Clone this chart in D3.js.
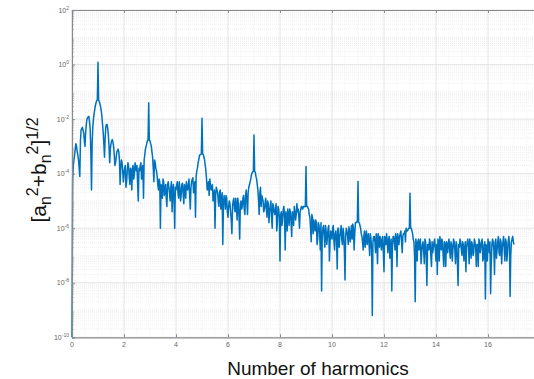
<!DOCTYPE html>
<html>
<head>
<meta charset="utf-8">
<script src="https://cdn.jsdelivr.net/npm/d3@7"></script>
<style>
  body { margin: 0; background: #fff; }
  svg { display: block; font-family: "Liberation Sans", Arial, sans-serif; }
</style>
</head>
<body>
<div id="chart"></div>
<script>
// harmonic axis: samples every 0.05 from 0 to 17, plus in-between samples at +0.025
const harmonicStep = 0.05;
// log10 of [an^2+bn^2]^(1/2) at x = i*0.05, one row per unit of harmonic
const logAmplitude = [
  -10, -3.7, -3.3, -2.9, -3.2, -3.5, -4.1, -2.4, -2.3, -2.5, -3.0, -2.2, -1.95, -1.9, -2.4, -4.6, -2.3, -1.8, -1.5, -1.32,
  0.08, -1.35, -1.55, -1.9, -2.5, -3.4, -2.3, -2.2, -2.6, -3.6, -2.9, -2.75, -3.0, -3.7, -3.4, -3.15, -3.2, -4.4, -3.5, -3.9,
  -4.0, -3.7, -4.3, -3.6, -4.1, -3.8, -4.6, -3.7, -4.0, -3.75, -3.7, -5.0, -3.9, -3.6, -3.8, -4.9, -3.3, -3.0, -2.8, -1.40,
  -2.8, -3.0, -3.4, -4.3, -3.6, -3.9, -4.4, -4.2, -6.0, -4.5, -4.2, -4.8, -4.4, -5.2, -4.3, -4.7, -4.5, -5.4, -4.4, -6.0,
  -4.6, -4.3, -4.9, -4.5, -4.8, -4.35, -5.1, -4.5, -4.3, -4.6, -4.2, -5.3, -4.3, -4.15, -4.4, -5.6, -3.9, -3.6, -3.35, -3.3,
  -1.97, -3.3, -3.5, -3.9, -4.6, -4.3, -4.2, -4.6, -4.4, -4.9, -6.0, -4.5, -4.7, -5.2, -4.6, -5.0, -6.6, -4.8, -5.3, -4.9,
  -5.6, -5.0, -5.4, -6.2, -5.0, -5.3, -4.9, -5.7, -5.1, -6.4, -5.0, -5.2, -4.8, -5.5, -4.6, -5.5, -4.5, -4.3, -4.05, -3.93,
  -2.58, -3.95, -4.2, -4.6, -5.5, -4.5, -4.8, -5.0, -5.3, -4.9, -5.6, -5.1, -5.4, -5.0, -6.0, -5.2, -5.5, -5.1, -5.8, -5.3,
  -7.2, -5.4, -5.7, -5.2, -6.8, -5.5, -5.3, -5.9, -5.4, -6.3, -5.5, -5.2, -5.7, -5.1, -5.3, -6.0, -5.3, -5.25, -5.2, -5.2,
  -3.74, -5.2, -5.3, -5.6, -6.5, -5.6, -5.7, -6.1, -5.8, -6.4, -5.9, -6.8, -8.3, -6.0, -6.3, -5.9, -6.6, -6.0, -7.2, -6.1,
  -6.4, -5.9, -6.8, -6.1, -7.5, -6.0, -6.3, -5.9, -6.6, -6.2, -7.9, -6.0, -6.3, -5.95, -6.5, -5.9, -5.85, -6.8, -5.8, -5.76,
  -4.29, -5.8, -6.0, -6.3, -6.8, -6.1, -6.3, -6.6, -6.2, -7.0, -6.4, -9.2, -6.3, -6.5, -6.2, -7.3, -6.4, -6.3, -6.8, -6.3,
  -7.6, -6.4, -6.2, -6.9, -6.3, -6.6, -8.3, -6.3, -6.5, -6.2, -7.4, -6.4, -6.3, -6.1, -6.9, -6.2, -6.1, -6.0, -6.1, -6.0,
  -4.72, -6.0, -6.2, -6.5, -8.7, -6.6, -6.5, -6.8, -6.4, -6.9, -6.5, -7.3, -6.5, -8.1, -6.6, -6.4, -7.0, -6.5, -6.7, -6.4,
  -7.2, -7.7, -6.5, -6.3, -6.8, -6.5, -7.4, -6.6, -6.5, -6.9, -6.4, -7.1, -6.6, -6.8, -6.5, -7.3, -6.6, -8.1, -6.7, -6.5,
  -7.0, -6.6, -6.8, -7.6, -6.5, -6.7, -6.4, -7.1, -6.6, -6.9, -6.5, -7.4, -6.6, -6.4, -6.9, -6.5, -7.2, -6.6, -8.6, -6.7,
  -6.4, -6.9, -8.4, -6.6, -6.5, -7.7, -6.4, -6.8, -6.3, -7.0, -6.5, -6.7, -6.3, -7.2, -6.5, -6.9, -6.3, -8.5, -6.5, -6.3,
  -6.6
];
// log10 amplitude at x = i*0.05 + 0.025
const logAmplitudeMid = [
  -4.2, -3.5, -3.1, -3.0, -3.3, -3.8, -2.8, -2.35, -2.4, -2.8, -2.5, -2.0, -1.92, -2.1, -3.2, -2.9, -2.0, -1.65, -1.4, -1.3,
  -1.32, -1.45, -1.7, -2.2, -2.9, -2.7, -2.2, -2.35, -3.0, -3.1, -2.8, -2.85, -3.3, -3.6, -3.2, -3.1, -3.5, -3.8, -3.6, -4.3,
  -3.8, -4.5, -3.9, -3.7, -4.4, -3.9, -3.8, -4.2, -3.6, -3.9, -4.4, -3.8, -3.7, -4.2, -3.7, -3.5, -3.1, -2.9, -2.75, -2.78,
  -2.9, -3.2, -3.8, -3.5, -3.8, -4.1, -4.6, -4.3, -4.4, -4.9, -4.3, -4.6, -4.9, -4.4, -4.5, -5.0, -4.3, -4.6, -5.0, -4.5,
  -4.4, -4.7, -4.3, -5.0, -4.4, -4.7, -4.4, -4.9, -4.5, -4.4, -4.8, -4.5, -4.2, -4.7, -4.3, -4.1, -3.8, -3.5, -3.3, -3.28,
  -3.28, -3.4, -3.7, -4.2, -4.4, -4.8, -4.4, -4.5, -5.0, -4.6, -4.8, -4.6, -5.0, -4.7, -5.3, -4.7, -5.1, -5.0, -4.8, -5.4,
  -5.2, -5.1, -5.7, -5.2, -4.9, -5.4, -5.2, -4.9, -5.6, -5.1, -5.3, -4.9, -5.3, -4.8, -5.0, -4.7, -4.4, -4.2, -3.98, -3.92,
  -3.92, -4.1, -4.4, -5.0, -4.7, -5.2, -4.9, -5.4, -5.1, -5.3, -5.0, -5.8, -5.2, -5.6, -5.1, -5.4, -5.3, -6.1, -5.2, -5.6,
  -5.5, -5.9, -5.3, -5.6, -5.4, -6.1, -5.5, -5.3, -5.8, -5.4, -5.9, -5.4, -5.5, -5.4, -5.6, -5.4, -5.2, -5.3, -5.22, -5.2,
  -5.2, -5.25, -5.5, -6.0, -5.5, -6.2, -5.9, -5.7, -6.6, -5.8, -6.2, -5.8, -6.3, -5.9, -6.7, -6.1, -6.3, -5.9, -6.5, -6.2,
  -6.0, -6.5, -6.2, -6.4, -6.0, -6.7, -6.2, -6.4, -6.0, -6.8, -6.3, -6.1, -6.6, -6.1, -6.2, -6.4, -6.0, -6.2, -5.8, -5.77,
  -5.78, -5.9, -6.2, -6.5, -6.3, -6.7, -6.1, -6.4, -6.6, -6.2, -6.8, -6.5, -6.3, -6.9, -6.4, -6.2, -6.7, -6.4, -6.5, -6.9,
  -6.3, -6.6, -6.5, -6.4, -7.1, -6.4, -6.7, -6.3, -6.8, -6.4, -6.2, -6.6, -6.2, -6.5, -6.3, -6.2, -6.5, -6.1, -6.05, -6.0,
  -6.0, -6.1, -6.4, -7.0, -6.4, -7.2, -6.4, -6.6, -7.3, -6.6, -6.8, -6.4, -7.1, -6.6, -6.8, -6.5, -7.4, -6.9, -6.5, -6.8,
  -6.6, -6.4, -7.2, -6.6, -6.4, -7.0, -6.5, -7.4, -6.6, -6.5, -6.8, -6.5, -7.2, -6.4, -6.8, -6.5, -7.3, -6.6, -6.4, -6.8,
  -6.5, -7.2, -6.5, -6.7, -6.4, -7.3, -6.6, -6.5, -7.0, -6.4, -6.7, -6.6, -7.4, -6.5, -6.7, -6.4, -7.1, -6.5, -6.6, -7.2,
  -6.6, -6.5, -7.3, -6.4, -6.8, -6.5, -7.1, -6.5, -6.9, -6.4, -7.3, -6.5, -6.8, -6.4, -7.2, -6.5, -6.6, -7.0, -6.4, -6.5
];
const xTicks = [0, 2, 4, 6, 8, 10, 12, 14, 16, 18, 20];
const yTickExps = [-10, -8, -6, -4, -2, 0, 2];

const W = 534, H = 379;
const plotLeft = 72, plotTop = 10, plotBottom = 337.3;
const pxPerUnit = 26;

const svg = d3.select('#chart').append('svg').attr('width', W).attr('height', H);

const x = d3.scaleLinear().domain([0, 20]).range([plotLeft, plotLeft + 20 * pxPerUnit]);
const y = d3.scaleLog().domain([1e-10, 1e2]).range([plotBottom, plotTop]);

const data = [];
logAmplitude.forEach((v, i) => {
  data.push({h: i * harmonicStep, a: Math.pow(10, v)});
  if (i < logAmplitudeMid.length) {
    data.push({h: i * harmonicStep + harmonicStep / 2, a: Math.pow(10, logAmplitudeMid[i])});
  }
});

// grid
const grid = svg.append('g');
// minor horizontal (2..9 x 10^k)
let minorY = [];
for (let e = -10; e < 2; e++) {
  for (let k = 2; k <= 9; k++) minorY.push(k * Math.pow(10, e));
}
grid.selectAll('.mhy').data(minorY).enter().append('line')
  .attr('x1', x(0)).attr('x2', x(20))
  .attr('y1', d => y(d)).attr('y2', d => y(d))
  .attr('stroke', '#e6e6e6').attr('stroke-width', 0.6).attr('stroke-dasharray', '1,1');
// decades without labels
grid.selectAll('.dy').data(d3.range(-9, 2, 2)).enter().append('line')
  .attr('x1', x(0)).attr('x2', x(20))
  .attr('y1', d => y(Math.pow(10, d))).attr('y2', d => y(Math.pow(10, d)))
  .attr('stroke', '#e2e2e2').attr('stroke-width', 0.6).attr('stroke-dasharray', '1,1');
// minor vertical
grid.selectAll('.mvx').data(d3.range(0.5, 20, 0.5).filter(v => v % 2 !== 0)).enter().append('line')
  .attr('x1', d => x(d)).attr('x2', d => x(d))
  .attr('y1', plotTop).attr('y2', plotBottom)
  .attr('stroke', '#ececec').attr('stroke-width', 0.6).attr('stroke-dasharray', '1,1');
// major
grid.selectAll('.gy').data(yTickExps).enter().append('line')
  .attr('x1', x(0)).attr('x2', x(20))
  .attr('y1', d => y(Math.pow(10, d))).attr('y2', d => y(Math.pow(10, d)))
  .attr('stroke', '#dedede').attr('stroke-width', 0.8);
grid.selectAll('.gx').data(xTicks).enter().append('line')
  .attr('x1', d => x(d)).attr('x2', d => x(d))
  .attr('y1', plotTop).attr('y2', plotBottom)
  .attr('stroke', '#dedede').attr('stroke-width', 0.8);

// data line
const line = d3.line().x(d => x(d.h)).y(d => y(d.a));
svg.append('path')
  .datum(data)
  .attr('d', line)
  .attr('fill', 'none')
  .attr('stroke', '#0072BD')
  .attr('stroke-width', 1.5)
  .attr('stroke-linejoin', 'round');

// axes (ticks pointing inward, MATLAB style)
const axisColor = '#8a8a8a';
const xAxisB = svg.append('g').attr('transform', 'translate(0,' + plotBottom + ')')
  .call(d3.axisTop(x).tickValues(xTicks).tickSize(3).tickFormat(''));
const xAxisT = svg.append('g').attr('transform', 'translate(0,' + plotTop + ')')
  .call(d3.axisBottom(x).tickValues(xTicks).tickSize(3).tickFormat(''));
const yAxisL = svg.append('g').attr('transform', 'translate(' + plotLeft + ',0)')
  .call(d3.axisRight(y).tickValues(yTickExps.map(e => Math.pow(10, e))).tickSize(3).tickFormat(''));
const yAxisMinor = svg.append('g').attr('transform', 'translate(' + plotLeft + ',0)')
  .call(d3.axisRight(y).tickValues(minorY).tickSize(1.5).tickFormat(''));
yAxisMinor.select('.domain').remove();
[xAxisB, xAxisT, yAxisL, yAxisMinor].forEach(g => {
  g.selectAll('path, line').attr('stroke', axisColor);
  g.select('.domain').attr('stroke-width', 1.2);
});

// tick labels
svg.append('g').selectAll('text').data(xTicks.filter(t => t <= 16)).enter().append('text')
  .attr('x', d => x(d)).attr('y', plotBottom + 10)
  .attr('text-anchor', 'middle')
  .attr('font-size', 7).attr('fill', '#666')
  .text(d => d);

const yl = svg.append('g').selectAll('text').data(yTickExps).enter().append('text')
  .attr('x', plotLeft - 3).attr('y', d => y(Math.pow(10, d)) + 2.5)
  .attr('text-anchor', 'end')
  .attr('font-size', 7).attr('fill', '#666');
yl.append('tspan').text('10');
yl.append('tspan').attr('dy', -3).attr('font-size', 5).text(d => d);

// axis titles
svg.append('text')
  .attr('x', 318).attr('y', 375)
  .attr('text-anchor', 'middle')
  .attr('font-size', 19).attr('fill', '#111')
  .text('Number of harmonics');

const yt = svg.append('text')
  .attr('transform', 'translate(46,170) rotate(-90)')
  .attr('text-anchor', 'middle')
  .attr('font-size', 21).attr('fill', '#111');
yt.append('tspan').text('[a');
yt.append('tspan').attr('font-size', 16).attr('dy', 5).text('n');
yt.append('tspan').attr('font-size', 16).attr('dy', -13).text('2');
yt.append('tspan').attr('dy', 8).text('+b');
yt.append('tspan').attr('font-size', 16).attr('dy', 5).text('n');
yt.append('tspan').attr('font-size', 16).attr('dy', -13).text('2');
yt.append('tspan').attr('dy', 8).text(']');
yt.append('tspan').attr('font-size', 16).attr('dy', -8).text('1/2');
</script>
</body>
</html>
